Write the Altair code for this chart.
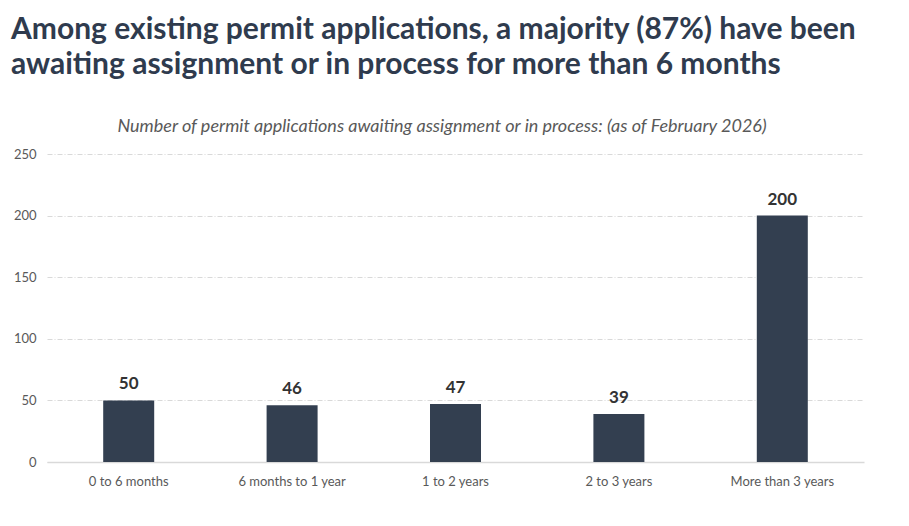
import altair as alt
import pandas as pd

categories = ["0 to 6 months", "6 months to 1 year", "1 to 2 years", "2 to 3 years", "More than 3 years"]
counts = [50, 46, 47, 39, 200]
y_ticks = [0, 50, 100, 150, 200, 250]

title_line1 = "Among existing permit applications, a majority (87%) have been"
title_line2 = "awaiting assignment or in process for more than 6 months"
subtitle = "Number of permit applications awaiting assignment or in process: (as of February 2026)"

df = pd.DataFrame({"category": categories, "count": counts})

FONT = "Lato, sans-serif"

base = alt.Chart(df).encode(
    x=alt.X("category:N", sort=categories, title=None,
            scale=alt.Scale(paddingInner=0, paddingOuter=0),
            axis=alt.Axis(labelAngle=0, labelColor="#595959", labelFontSize=13,
                          labelFont=FONT, labelPadding=13, ticks=False,
                          domainColor="#d9d9d9", domainWidth=1.5)),
    y=alt.Y("count:Q", title=None,
            scale=alt.Scale(domain=[0, 250], nice=False),
            axis=alt.Axis(values=y_ticks, labelColor="#595959", labelFontSize=13,
                          labelFont=FONT, labelPadding=11, ticks=False, domain=False,
                          gridColor="#d9d9d9", gridDash=[5, 2, 1, 2], gridWidth=1)),
)

bars = base.mark_bar(size=51, color="#333F50")

labels = base.mark_text(dy=-11, fontSize=17, fontWeight="bold", color="#333333",
                        font=FONT, baseline="alphabetic").encode(text="count:Q")


def text_layer(txt, x, y, **kw):
    return alt.Chart(pd.DataFrame({"t": [txt]})).mark_text(
        font=FONT, baseline="alphabetic", **kw
    ).encode(x=alt.value(x), y=alt.value(y), text="t:N")


sub = text_layer(subtitle, 395, -22, fontSize=18, fontStyle="italic",
                 color="#595959", align="center")
t1 = text_layer(title_line1, -36, -115, fontSize=30, fontWeight="bold",
                color="#2F3B4E", align="left")
t2 = text_layer(title_line2, -36, -80, fontSize=30, fontWeight="bold",
                color="#2F3B4E", align="left")

chart = alt.layer(bars, labels, sub, t1, t2).properties(
    width=893, height=510,
    autosize=alt.AutoSizeParams(type="fit", contains="padding"),
    padding={"left": 3, "right": 37, "top": 7, "bottom": 30},
    background="white",
).configure_view(stroke=None)

chart.save("out.html", embed_options={"renderer": "svg", "actions": False})
